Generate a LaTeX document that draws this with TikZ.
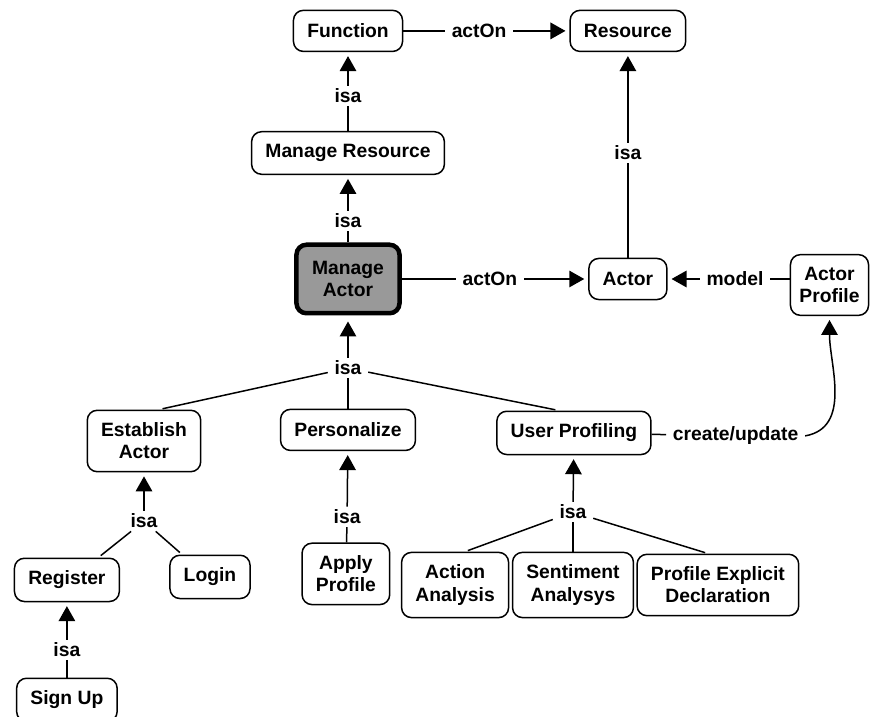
\documentclass[tikz,border=0pt]{standalone}
\usepackage{fontspec}
\setmainfont{Liberation Sans}
\usetikzlibrary{arrows.meta}
\definecolor{Gr}{RGB}{153,153,153}

\tikzset{
  concepto/.style={draw, line width=0.05cm, rounded corners=0.33cm, fill=white, align=center,
    inner xsep=0.46cm, inner ysep=0.42cm, minimum height=1.37cm,
    font=\bfseries\fontsize{18.3}{20.9}\selectfont},
  enlace/.style={inner xsep=0.22cm, inner ysep=0.1cm, font=\bfseries\fontsize{18.3}{20.9}\selectfont},
  linea/.style={line width=0.05cm},
  flecha/.style={line width=0.05cm, -{Triangle[length=0.5cm,width=0.55cm]}, shorten >=0.13cm}
}

\begin{document}
\begin{tikzpicture}
   	\useasboundingbox (0,0) rectangle (29,23.9);
   	\fill[color=white] (0,0) rectangle (29,23.9);

	%Conceptos superiores
   	\node[concepto] (funcion) at (11.6,22.87) {Function};
   	\node[concepto] (recurso) at (20.93,22.87) {Resource};
   	\node[concepto] (gestrec) at (11.6,18.8) {Manage Resource};

	%Concepto central (gris)
   	\node[concepto, fill=Gr, line width=0.15cm, inner xsep=0.52cm, inner ysep=0.55cm] (gestact) at (11.6,14.6) {Manage\\Actor};
   	\node[concepto] (actor) at (20.93,14.6) {Actor};
   	\node[concepto, inner xsep=0.3cm] (perfil) at (27.65,14.4) {Actor\\Profile};

	%Segundo nivel
   	\node[concepto] (establecer) at (4.8,9.2) {Establish\\Actor};
   	\node[concepto] (personalizar) at (11.6,9.57) {Personalize};
   	\node[concepto] (perfilado) at (19.13,9.47) {User Profiling};

	%Tercer nivel
   	\node[concepto] (registro) at (2.23,4.57) {Register};
   	\node[concepto] (login) at (7.0,4.67) {Login};
   	\node[concepto] (aplicar) at (11.53,4.77) {Apply\\Profile};
   	\node[concepto] (accion) at (15.17,4.4) {Action\\Analysis};
   	\node[concepto] (sentimiento) at (19.1,4.4) {Sentiment\\Analysys};
   	\node[concepto] (explicita) at (23.93,4.4) {Profile Explicit\\Declaration};
   	\node[concepto] (alta) at (2.23,0.57) {Sign Up};

	%Frases de enlace
   	\node[enlace] (actOnA) at (15.97,22.87) {actOn};
   	\node[enlace] (isaA) at (11.6,20.7) {isa};
   	\node[enlace] (isaB) at (11.6,16.53) {isa};
   	\node[enlace] (isaC) at (20.93,18.8) {isa};
   	\node[enlace] (actOnB) at (16.33,14.6) {actOn};
   	\node[enlace] (modelo) at (24.5,14.6) {model};
   	\node[enlace] (isaD) at (11.6,11.63) {isa};
   	\node[enlace] (crear) at (24.52,9.37) {create/update};
   	\node[enlace] (isaE) at (4.8,6.53) {isa};
   	\node[enlace] (isaF) at (11.57,6.67) {isa};
   	\node[enlace] (isaG) at (19.1,6.83) {isa};
   	\node[enlace] (isaH) at (2.23,2.23) {isa};

	%Parte superior
   	\draw[linea] (funcion) -- (actOnA);
   	\draw[flecha] (actOnA) -- (recurso);
   	\draw[linea] (gestrec) -- (isaA);
   	\draw[flecha] (isaA) -- (funcion);
   	\draw[linea] (gestact) -- (isaB);
   	\draw[flecha] (isaB) -- (gestrec);
   	\draw[linea] (actor) -- (isaC);
   	\draw[flecha] (isaC) -- (recurso);

	%Actor y su perfil
   	\draw[linea] (gestact) -- (actOnB);
   	\draw[flecha] (actOnB) -- (actor);
   	\draw[linea] (perfil.west |- modelo) -- (modelo);
   	\draw[flecha] (modelo) -- (actor);
   	\draw[linea] (perfilado) -- (crear);
   	\draw[flecha] (crear.east) to[out=10,in=-90] (perfil.south);

	%Ramas de Manage Actor
   	\draw[flecha, shorten >=0.2cm] (isaD) -- (gestact);
   	\draw[linea, shorten >=0.12cm] (isaD) -- ([xshift=0.5cm]establecer.north);
   	\draw[linea] (isaD) -- (personalizar);
   	\draw[linea, shorten >=0.12cm] (isaD) -- ([xshift=-0.5cm]perfilado.north);

	%Establish Actor
   	\draw[flecha] (isaE) -- (establecer);
   	\draw[linea, shorten >=0.1cm] (isaE) -- ([xshift=1.05cm]registro.north);
   	\draw[linea, shorten >=0.1cm] (isaE) -- ([xshift=-0.93cm]login.north);
   	\draw[linea] (alta) -- (isaH);
   	\draw[flecha] (isaH) -- (registro);

	%Personalize
   	\draw[linea] (aplicar) -- (isaF);
   	\draw[flecha] (isaF) -- (personalizar);

	%User Profiling
   	\draw[flecha] (isaG) -- (perfilado);
   	\draw[linea, shorten >=0.1cm] (isaG) -- ([xshift=0.33cm]accion.north);
   	\draw[linea] (isaG) -- (sentimiento);
   	\draw[linea, shorten >=0.1cm] (isaG) -- ([xshift=-0.33cm]explicita.north);
\end{tikzpicture}
\end{document}
